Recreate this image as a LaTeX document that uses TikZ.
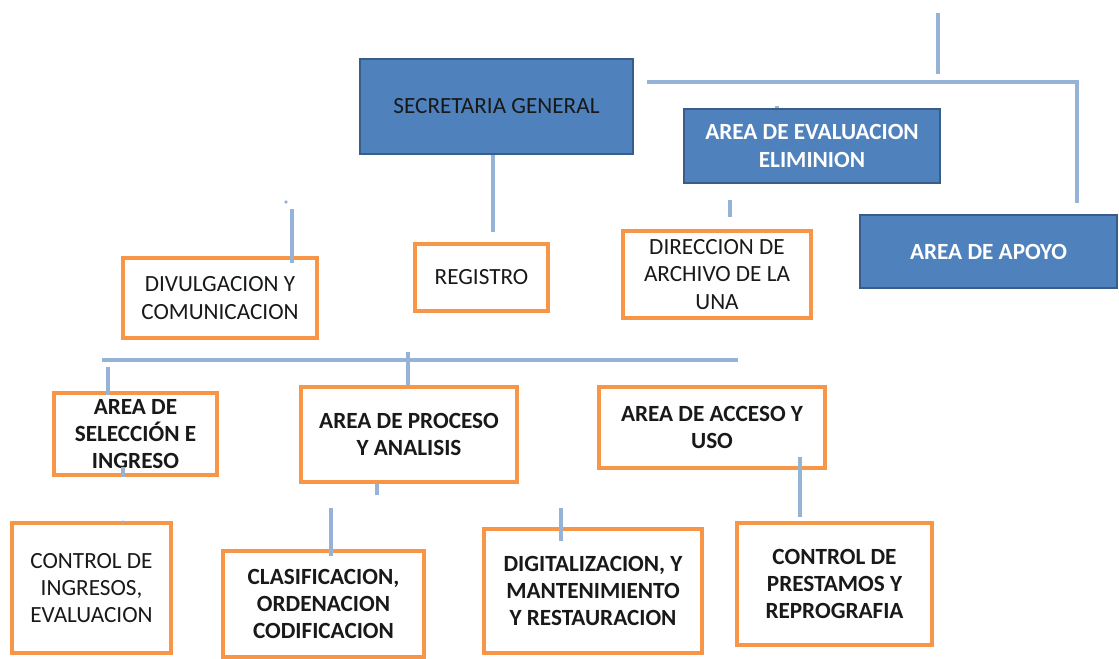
\documentclass[tikz,border=0pt]{standalone}
\usepackage{fontspec}
\setmainfont{Carlito}
\usetikzlibrary{positioning}
\definecolor{HeadBlue}{RGB}{79,129,189}
\definecolor{HeadEdge}{RGB}{56,93,138}
\definecolor{BoxOrange}{RGB}{247,150,70}
\definecolor{LinkBlue}{RGB}{149,179,215}
\definecolor{InkDark}{RGB}{25,25,25}

\begin{document}
\begin{tikzpicture}[
          hd/.style={rectangle, fill=HeadBlue, draw=HeadEdge, line width=1.2pt,
                     inner sep=0pt, align=center, text=white,
                     font=\fontsize{16.5}{19.5}\selectfont\bfseries},
          bx/.style={rectangle, fill=white, draw=BoxOrange, line width=2.6pt,
                     inner sep=0pt, align=center, text=InkDark,
                     font=\fontsize{16.5}{19.5}\selectfont},
          ln/.style={draw=LinkBlue, line width=2.8pt}
        ]
        \useasboundingbox (0,0) rectangle (27.975,16.45);

        % head boxes
        \node[hd, minimum width=6.825cm, minimum height=2.375cm,
              font=\fontsize{16.5}{19.5}\selectfont, text=InkDark] (sec)
              at (12.4125,13.7875) {SECRETARIA GENERAL};
        \node[hd, minimum width=6.4cm, minimum height=1.85cm] (evl)
              at (20.3,12.8) {AREA DE EVALUACION\\ELIMINION};
        \node[hd, minimum width=6.425cm, minimum height=1.825cm] (apo)
              at (24.7125,10.1625) {AREA DE APOYO};

        % second row
        \node[bx, minimum width=4.85cm, minimum height=2cm] (div)
              at (5.5,9.0) {DIVULGACION Y\\COMUNICACION};
        \node[bx, minimum width=3.325cm, minimum height=1.675cm] (reg)
              at (12.0375,9.5125) {REGISTRO};
        \node[bx, minimum width=4.7cm, minimum height=2.175cm] (dir)
              at (17.925,9.5875) {DIRECCION DE\\ARCHIVO DE LA\\UNA};

        % areas
        \node[bx, minimum width=4.075cm, minimum height=2.05cm,
              font=\fontsize{16.5}{19.5}\selectfont\bfseries] (sel)
              at (3.3875,5.6) {AREA DE\\SELECCIÓN E\\INGRESO};
        \node[bx, minimum width=5.4cm, minimum height=2.375cm,
              font=\fontsize{16.5}{19.5}\selectfont\bfseries] (pro)
              at (10.225,5.5875) {AREA DE PROCESO\\Y ANALISIS};
        \node[bx, minimum width=5.65cm, minimum height=2.025cm,
              font=\fontsize{16.5}{19.5}\selectfont\bfseries] (acc)
              at (17.8,5.7625) {AREA DE ACCESO Y\\USO};

        % bottom row
        \node[bx, minimum width=3.975cm, minimum height=3.25cm] (cin)
              at (2.2875,1.75) {CONTROL DE\\INGRESOS,\\EVALUACION};
        \node[bx, minimum width=5.025cm, minimum height=2.65cm,
              font=\fontsize{16.5}{19.5}\selectfont\bfseries] (cla)
              at (8.0875,1.35) {CLASIFICACION,\\ORDENACION\\CODIFICACION};
        \node[bx, minimum width=5.45cm, minimum height=3.1cm,
              font=\fontsize{16.5}{19.5}\selectfont\bfseries] (dig)
              at (14.825,1.675) {DIGITALIZACION, Y\\MANTENIMIENTO\\Y RESTAURACION};
        \node[bx, minimum width=4.875cm, minimum height=3.05cm,
              font=\fontsize{16.5}{19.5}\selectfont\bfseries] (pre)
              at (20.8625,1.85) {CONTROL DE\\PRESTAMOS Y\\REPROGRAFIA};

        % upper links
        \coordinate (topA) at (23.45,16.125);
        \coordinate (topB) at (23.45,14.6);
        \draw[ln] (topA) -- (topB);
        \coordinate (brL) at (16.175,14.4);
        \coordinate (brR) at (26.925,11.375);
        \draw[ln] (brL) -| (brR);
        \draw[ln] ([xshift=-0.875cm]evl.north) -- ++(0,0.06);

        \coordinate (regIn) at (12.325,10.65);
        \draw[ln] (regIn |- sec.south) -- (regIn);

        \coordinate (divDot) at (7.15,11.4);
        \fill[LinkBlue] (divDot) circle (0.045);
        \coordinate (divIn) at (7.3,11.225);
        \draw[ln] (divIn) -- (divIn |- div.north) -- ++(0,-0.175);

        \coordinate (dirIn) at (18.25,11.45);
        \draw[ln] (dirIn) -- ++(0,-0.425);

        % bus over the areas
        \coordinate (busL) at (2.55,7.45);
        \coordinate (busR) at (18.45,7.45);
        \draw[ln] (busL) -- (busR);
        \coordinate (proUp) at (10.2,7.65);
        \draw[ln] (proUp) -- (proUp |- pro.north);
        \coordinate (selUp) at (2.7,7.275);
        \draw[ln] (selUp) -- (selUp |- sel.north) -- ++(0,-0.1);

        % lower links
        \coordinate (selDn) at (3.075,4.525);
        \draw[ln] (selDn) -- ++(0,0.25);
        \coordinate (cinUp) at (3.075,3.4);
        \fill[LinkBlue] (cinUp) circle (0.04);

        \coordinate (proDn) at (9.425,4.075);
        \draw[ln] (proDn |- pro.south) -- (proDn);
        \coordinate (claUp) at (8.275,3.75);
        \draw[ln] (claUp) -- (claUp |- cla.north) -- ++(0,-0.175);
        \coordinate (digUp) at (14.025,3.75);
        \draw[ln] (digUp) -- (digUp |- dig.north) -- ++(0,-0.35);

        \coordinate (accDn) at (20.0,5.025);
        \coordinate (preUp) at (20.0,3.525);
        \draw[ln] (accDn) -- (preUp);
      \end{tikzpicture}
\end{document}
